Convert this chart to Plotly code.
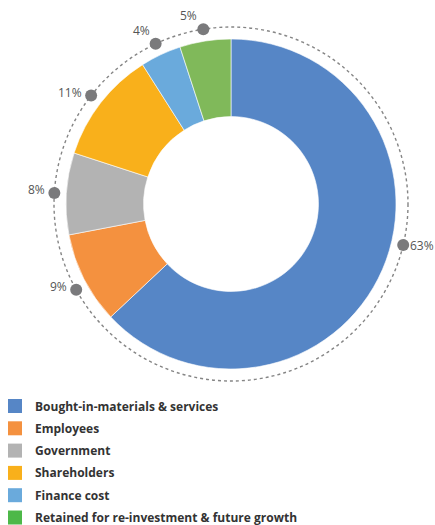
import math
import plotly.graph_objects as go

categories = ["Bought-in-materials & services", "Employees", "Government",
              "Shareholders", "Finance cost", "Retained for re-investment & future growth"]
values = [63, 9, 8, 11, 4, 5]
colors = ["#5686C6", "#F4913F", "#B3B3B3", "#F9B01B", "#6AAADC", "#80B95A"]
legend_colors = ["#5686C6", "#F4913F", "#B3B3B3", "#F9B01B", "#6AAADC", "#4DB848"]

W, H = 435, 525
cx, cy, R = 231, 204, 165
ring_r = 177
label_shift_deg = [-10, -2, 0, 0, 0, 0]  # style tweak for label placement

fig = go.Figure()
fig.add_trace(go.Pie(
    labels=categories, values=values, sort=False, direction="clockwise", rotation=0,
    hole=0.53, textinfo="none", hoverinfo="label+percent",
    marker=dict(colors=colors, line=dict(color="white", width=0.6)),
    domain=dict(x=[(cx - R) / W, (cx + R) / W], y=[1 - (cy + R) / H, 1 - (cy - R) / H]),
    showlegend=False,
))

total = sum(values)
acc = 0
dx, dy, txt = [], [], []
for v, sh in zip(values, label_shift_deg):
    mid = (acc + v / 2) / total * 2 * math.pi + math.radians(sh)
    acc += v
    dx.append(cx + ring_r * math.sin(mid))
    dy.append(cy - ring_r * math.cos(mid))
    txt.append(f"{v}%")

fig.add_trace(go.Scatter(
    x=dx, y=dy, mode="markers", marker=dict(size=12, color="#7A7A7C"),
    showlegend=False, hoverinfo="skip", xaxis="x", yaxis="y"))

lab_font = dict(family="Open Sans", size=12, color="#555")
for x, y, t in zip(dx, dy, txt):
    if x > cx:
        fig.add_annotation(x=x + 5, y=y, text=t, xanchor="left", yanchor="middle",
                           showarrow=False, font=lab_font)
    elif y < cy - 120:
        fig.add_annotation(x=x - 4, y=y - 3, text=t, xanchor="right", yanchor="bottom",
                           showarrow=False, font=lab_font)
    else:
        fig.add_annotation(x=x - 7, y=y - 3, text=t, xanchor="right", yanchor="middle",
                           showarrow=False, font=lab_font)

fig.add_shape(type="circle", xref="x", yref="y",
              x0=cx - ring_r, x1=cx + ring_r, y0=cy - ring_r, y1=cy + ring_r,
              line=dict(color="#858585", width=1.4, dash="dot"), layer="below")

# manual legend
ly0, lstep = 406, 22.3
ly = [ly0 + i * lstep for i in range(len(categories))]
fig.add_trace(go.Scatter(
    x=[15] * len(categories), y=ly, mode="markers",
    marker=dict(symbol="square", size=14, color=legend_colors),
    showlegend=False, hoverinfo="skip"))
for y, c in zip(ly, categories):
    fig.add_annotation(x=33, y=y, text=f"<b>{c}</b>", xanchor="left", yanchor="middle",
                       showarrow=False,
                       font=dict(family="Open Sans", size=12, color="#333333"))

fig.update_layout(
    width=W, height=H, margin=dict(l=0, r=0, t=0, b=0),
    paper_bgcolor="white", plot_bgcolor="rgba(0,0,0,0)",
    xaxis=dict(range=[0, W], visible=False, domain=[0, 1], fixedrange=True),
    yaxis=dict(range=[H, 0], visible=False, domain=[0, 1], fixedrange=True),
    showlegend=False,
)
fig.write_html("out.html", config={"displayModeBar": False},
               post_script="document.body.style.margin='0px';")
